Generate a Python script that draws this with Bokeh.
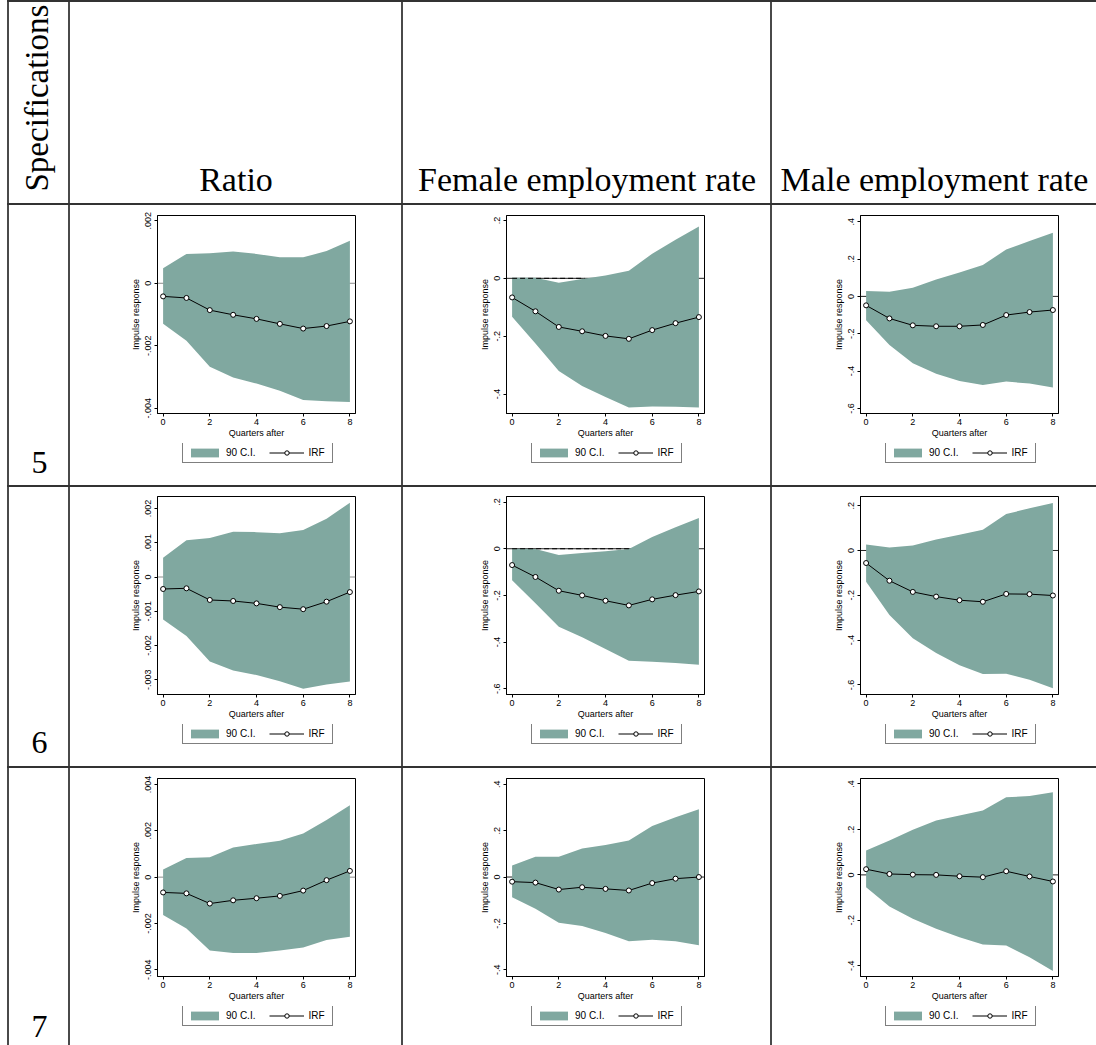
import math
from bokeh.plotting import figure
from bokeh.models import Label, Legend, LegendItem, Span, FixedTicker, Spacer, Range1d
from bokeh.layouts import row, column
from bokeh.embed import file_html
from bokeh.resources import INLINE

# ---------------- data ----------------
quarters = [0, 1, 2, 3, 4, 5, 6, 7, 8]
x_ticks = [0, 2, 4, 6, 8]

corner_title = "Specifications"
column_titles = ["Ratio", "Female employment rate", "Male employment rate"]
spec_labels = ["5", "6", "7"]

legend_labels = ["90 C.I.", "IRF"]
x_title = "Quarters after"
y_title = "Impulse response"

# Specification 5
ratio5_hi = [0.00048, 0.00094, 0.00096, 0.00102, 0.00094, 0.00083, 0.00083, 0.00103, 0.00136]
ratio5_lo = [-0.00130, -0.00184, -0.00267, -0.00302, -0.00321, -0.00344, -0.00374, -0.00378, -0.00380]
ratio5_irf = [-0.00042, -0.00047, -0.00086, -0.00101, -0.00114, -0.00130, -0.00145, -0.00137, -0.00122]

female5_hi = [0.002, 0.002, -0.015, -0.002, 0.010, 0.026, 0.085, 0.133, 0.179]
female5_lo = [-0.133, -0.225, -0.320, -0.372, -0.410, -0.446, -0.443, -0.444, -0.446]
female5_irf = [-0.066, -0.114, -0.168, -0.183, -0.199, -0.209, -0.179, -0.155, -0.134]

male5_hi = [0.029, 0.025, 0.046, 0.091, 0.128, 0.168, 0.251, 0.296, 0.340]
male5_lo = [-0.128, -0.260, -0.358, -0.414, -0.453, -0.474, -0.456, -0.467, -0.488]
male5_irf = [-0.048, -0.118, -0.155, -0.160, -0.160, -0.153, -0.100, -0.084, -0.073]

# Specification 6
ratio6_hi = [0.00056, 0.00107, 0.00114, 0.00132, 0.00131, 0.00128, 0.00137, 0.00170, 0.00217]
ratio6_lo = [-0.00124, -0.00172, -0.00247, -0.00273, -0.00286, -0.00304, -0.00326, -0.00314, -0.00305]
ratio6_irf = [-0.00035, -0.00033, -0.00067, -0.00070, -0.00077, -0.00088, -0.00094, -0.00072, -0.00044]

female6_hi = [0.000, -0.001, -0.027, -0.018, -0.011, -0.001, 0.050, 0.092, 0.132]
female6_lo = [-0.135, -0.234, -0.334, -0.379, -0.430, -0.480, -0.485, -0.490, -0.497]
female6_irf = [-0.070, -0.121, -0.180, -0.200, -0.223, -0.243, -0.217, -0.199, -0.183]

male6_hi = [0.027, 0.013, 0.022, 0.049, 0.070, 0.092, 0.163, 0.188, 0.212]
male6_lo = [-0.140, -0.288, -0.392, -0.458, -0.512, -0.552, -0.550, -0.577, -0.615]
male6_irf = [-0.056, -0.135, -0.185, -0.206, -0.222, -0.229, -0.194, -0.195, -0.201]

# Specification 7
ratio7_hi = [0.00033, 0.00083, 0.00086, 0.00128, 0.00143, 0.00157, 0.00188, 0.00247, 0.00311]
ratio7_lo = [-0.00163, -0.00222, -0.00317, -0.00328, -0.00327, -0.00317, -0.00304, -0.00271, -0.00257]
ratio7_irf = [-0.00066, -0.00070, -0.00114, -0.00100, -0.00091, -0.00081, -0.00058, -0.00013, 0.00027]

female7_hi = [0.050, 0.087, 0.087, 0.123, 0.138, 0.158, 0.220, 0.258, 0.292]
female7_lo = [-0.087, -0.137, -0.197, -0.211, -0.241, -0.277, -0.271, -0.277, -0.294]
female7_irf = [-0.020, -0.024, -0.054, -0.044, -0.051, -0.058, -0.026, -0.007, 0.000]

male7_hi = [0.107, 0.151, 0.199, 0.239, 0.261, 0.283, 0.341, 0.347, 0.363]
male7_lo = [-0.054, -0.139, -0.193, -0.237, -0.274, -0.306, -0.311, -0.362, -0.423]
male7_irf = [0.025, 0.004, 0.001, 0.000, -0.006, -0.010, 0.016, -0.007, -0.029]

# y ticks and tick labels per panel
ratio5_yticks = [-0.004, -0.002, 0, 0.002]
ratio5_ylabels = ["-.004", "-.002", "0", ".002"]
female5_yticks = [-0.4, -0.2, 0, 0.2]
female5_ylabels = ["-.4", "-.2", "0", ".2"]
male5_yticks = [-0.6, -0.4, -0.2, 0, 0.2, 0.4]
male5_ylabels = ["-.6", "-.4", "-.2", "0", ".2", ".4"]

ratio6_yticks = [-0.003, -0.002, -0.001, 0, 0.001, 0.002]
ratio6_ylabels = ["-.003", "-.002", "-.001", "0", ".001", ".002"]
female6_yticks = [-0.6, -0.4, -0.2, 0, 0.2]
female6_ylabels = ["-.6", "-.4", "-.2", "0", ".2"]
male6_yticks = [-0.6, -0.4, -0.2, 0, 0.2]
male6_ylabels = ["-.6", "-.4", "-.2", "0", ".2"]

ratio7_yticks = [-0.004, -0.002, 0, 0.002, 0.004]
ratio7_ylabels = ["-.004", "-.002", "0", ".002", ".004"]
female7_yticks = [-0.4, -0.2, 0, 0.2, 0.4]
female7_ylabels = ["-.4", "-.2", "0", ".2", ".4"]
male7_yticks = [-0.4, -0.2, 0, 0.2, 0.4]
male7_ylabels = ["-.4", "-.2", "0", ".2", ".4"]

# where the dashed zero reference runs over the band (female, specs 5 and 6)
female5_dash_end = 3.1
female6_dash_end = 5.0

# ---------------- styling / layout ----------------
BAND = "#80a8a0"
SERIF = "Liberation Serif"
SANS = "Liberation Sans"
VLINE = "#4a4a4a"
HLINE = "#333333"

LEFT_MARGIN = 7
LINE_W = 2
LABEL_W = 59
COL_W = [331, 367, 324]
HEADER_H = 201
ROW_H = [280, 279, 277]

FRAME = 198
AXIS_SPACE = 30        # below the frame, inside the panel figure
ML = [87, 103, 88]
MT = [10, 9, 10]
ZERO_COL = ["#8c8c8c", "#222222", "#222222"]
LEG_H = 19

HEADER_Y = 24          # text middle, px above cell bottom
SPEC_Y = [23, 24, 19]  # text middle, px above cell bottom

X_RANGE = (-0.24, 8.24)
Y_RANGES = [
    [(-0.00417, 0.00217), (-0.467, 0.217), (-0.627, 0.433)],
    [(-0.00343, 0.00235), (-0.625, 0.224), (-0.643, 0.241)],
    [(-0.00429, 0.00426), (-0.429, 0.425), (-0.447, 0.424)],
]

panels = [
    [(ratio5_hi, ratio5_lo, ratio5_irf, ratio5_yticks, ratio5_ylabels, None),
     (female5_hi, female5_lo, female5_irf, female5_yticks, female5_ylabels, female5_dash_end),
     (male5_hi, male5_lo, male5_irf, male5_yticks, male5_ylabels, None)],
    [(ratio6_hi, ratio6_lo, ratio6_irf, ratio6_yticks, ratio6_ylabels, None),
     (female6_hi, female6_lo, female6_irf, female6_yticks, female6_ylabels, female6_dash_end),
     (male6_hi, male6_lo, male6_irf, male6_yticks, male6_ylabels, None)],
    [(ratio7_hi, ratio7_lo, ratio7_irf, ratio7_yticks, ratio7_ylabels, None),
     (female7_hi, female7_lo, female7_irf, female7_yticks, female7_ylabels, None),
     (male7_hi, male7_lo, male7_irf, male7_yticks, male7_ylabels, None)],
]


def draw_series(p, hi, lo, irf, visible=True):
    band = p.varea(x=quarters, y1=lo, y2=hi, fill_color=BAND, fill_alpha=1.0,
                   visible=visible)
    ln = p.line(x=quarters, y=irf, line_color="black", line_width=1, visible=visible)
    sc = p.scatter(x=quarters, y=irf, size=5, marker="circle", fill_color="white",
                   line_color="black", line_width=1, visible=visible)
    return band, ln, sc


def make_panel(ri, ci):
    hi, lo, irf, yt, yl, dash_end = panels[ri][ci]
    w = COL_W[ci]
    h = MT[ri] + FRAME + AXIS_SPACE
    p = figure(width=w, height=h,
               x_range=Range1d(*X_RANGE), y_range=Range1d(*Y_RANGES[ri][ci]),
               output_backend="svg", toolbar_location=None,
               min_border_left=ML[ci], min_border_right=w - ML[ci] - FRAME,
               min_border_top=MT[ri], min_border_bottom=AXIS_SPACE)
    p.background_fill_color = "white"
    p.border_fill_color = "white"
    p.outline_line_color = "black"
    p.outline_line_width = 1
    p.grid.visible = False

    p.add_layout(Span(location=0, dimension="width", line_color=ZERO_COL[ci],
                      line_width=1, level="underlay"))
    band, ln, sc = draw_series(p, hi, lo, irf)
    if dash_end is not None:
        dash = p.line(x=[0, dash_end], y=[0, 0], line_color="black", line_width=1,
                      line_dash="5 3")
        dash.level = "overlay"

    for ax in (p.xaxis[0], p.yaxis[0]):
        ax.axis_line_color = "black"
        ax.major_tick_line_color = "black"
        ax.major_tick_out = 3
        ax.major_tick_in = 0
        ax.minor_tick_line_color = None
        ax.major_label_text_font = SANS
        ax.major_label_text_font_size = "9px"
        ax.major_label_text_color = "black"
        ax.axis_label_text_font = SANS
        ax.axis_label_text_font_size = "9px"
        ax.axis_label_text_font_style = "normal"
        ax.axis_label_text_color = "black"

    p.xaxis.ticker = FixedTicker(ticks=x_ticks)
    p.xaxis.major_label_standoff = 2
    p.xaxis.axis_label = x_title
    p.xaxis.axis_label_standoff = 0

    p.yaxis.ticker = FixedTicker(ticks=yt)
    p.yaxis.major_label_overrides = {t: s for t, s in zip(yt, yl)}
    p.yaxis.major_label_orientation = "vertical"
    p.yaxis.major_label_standoff = 3
    p.yaxis.axis_label = y_title
    p.yaxis.axis_label_standoff = 2
    return p


def make_legend_fig(ri, ci):
    hi, lo, irf = panels[ri][ci][:3]
    w = COL_W[ci]
    h = ROW_H[ri] - MT[ri] - FRAME - AXIS_SPACE
    p = figure(width=w, height=h, x_range=Range1d(*X_RANGE),
               y_range=Range1d(*Y_RANGES[ri][ci]),
               output_backend="svg", toolbar_location=None,
               x_axis_type=None, y_axis_type=None, min_border=0)
    p.frame_align = False
    p.outline_line_color = None
    p.background_fill_color = "white"
    p.border_fill_color = "white"
    band, ln, sc = draw_series(p, hi, lo, irf, visible=False)
    legend = Legend(items=[LegendItem(label=legend_labels[0], renderers=[band]),
                           LegendItem(label=legend_labels[1], renderers=[ln, sc])],
                    location=(ML[ci] + 25, h - 1 - LEG_H), orientation="horizontal",
                    click_policy="none",
                    border_line_color="black", border_line_width=1,
                    background_fill_color="white", background_fill_alpha=1.0,
                    inactive_fill_alpha=0.0,
                    padding=4, spacing=14, margin=0,
                    glyph_width=35, glyph_height=11, label_height=11,
                    label_standoff=4, label_text_font=SANS,
                    label_text_font_size="10px", label_text_color="black")
    p.add_layout(legend)
    return p


def text_cell(w, h, txt, x, y, size="34px", angle=0.0, align="center",
              baseline="middle"):
    p = figure(width=w, height=h, x_range=Range1d(0, 1), y_range=Range1d(0, 1),
               output_backend="svg", toolbar_location=None,
               x_axis_type=None, y_axis_type=None, min_border=0)
    p.frame_align = False
    p.outline_line_color = None
    p.background_fill_color = "white"
    p.border_fill_color = "white"
    if txt:
        p.add_layout(Label(x=x, y=y, x_units="screen", y_units="screen", text=txt,
                           text_font=SERIF, text_font_size=size, text_color="black",
                           angle=angle, text_align=align, text_baseline=baseline))
    return p


def vline(h):
    return Spacer(width=LINE_W, height=h, styles={"background-color": VLINE})


def hline():
    total = LINE_W + LABEL_W + sum(COL_W) + 3 * LINE_W
    return row(Spacer(width=LEFT_MARGIN, height=LINE_W),
               Spacer(width=total, height=LINE_W, styles={"background-color": HLINE}))


def table_row(h, cells):
    kids = [Spacer(width=LEFT_MARGIN, height=h), vline(h)]
    for i, c in enumerate(cells):
        kids.append(c)
        if i < len(cells) - 1:
            kids.append(vline(h))
    return row(*kids)


header_cells = [text_cell(LABEL_W, HEADER_H, corner_title, 27, 12, size="33px",
                          angle=math.pi / 2, align="left", baseline="middle")]
for ci, t in enumerate(column_titles):
    header_cells.append(text_cell(COL_W[ci], HEADER_H, t, COL_W[ci] / 2, HEADER_Y))

rows = [hline(), table_row(HEADER_H, header_cells), hline()]
for ri in range(3):
    cells = [text_cell(LABEL_W, ROW_H[ri], spec_labels[ri], 30, SPEC_Y[ri], size="32px")]
    for ci in range(3):
        cells.append(column(make_panel(ri, ci), make_legend_fig(ri, ci)))
    rows.append(table_row(ROW_H[ri], cells))
    if ri < 2:
        rows.append(hline())

layout = column(*rows)

open("out.html", "w").write(file_html(layout, INLINE))
